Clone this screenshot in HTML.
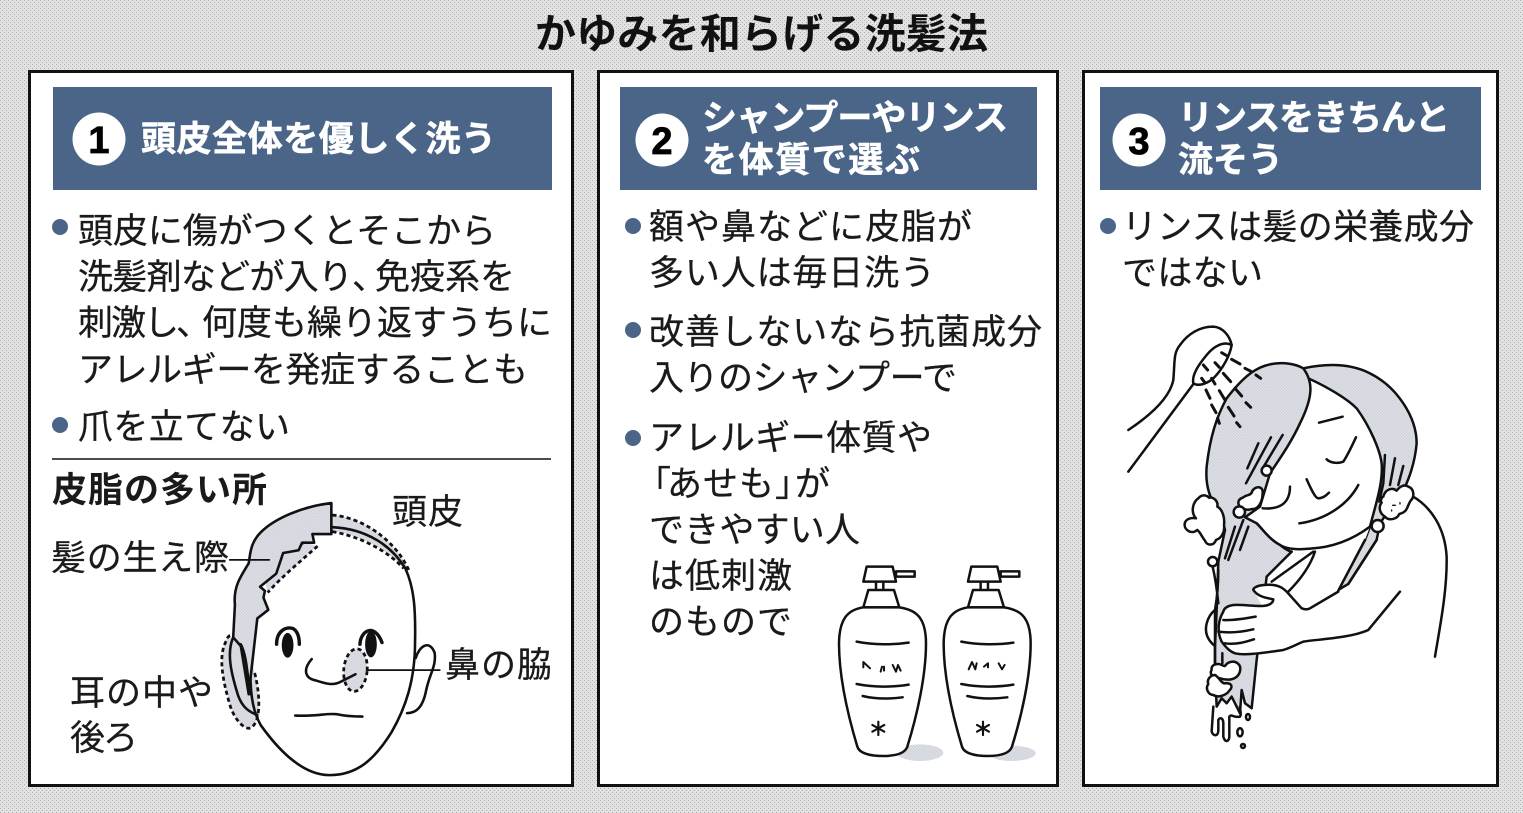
<!DOCTYPE html>
<html lang="ja"><head><meta charset="utf-8">
<style>html,body{margin:0;padding:0;background:#d9d9d9}svg{display:block}
text{font-family:"Liberation Sans","Noto Sans CJK JP",sans-serif;fill:#1a1a1a}
.b{font-size:35px;font-weight:400;stroke:#1a1a1a;stroke-width:.25}
.h{font-size:35px;font-weight:700;fill:#fff;stroke:#fff;stroke-width:.6}
.l{fill:none;stroke:#111;stroke-width:7.5;stroke-linecap:round;stroke-linejoin:round}
.w{fill:#fff;stroke:#111;stroke-width:7.5;stroke-linecap:round;stroke-linejoin:round}
.d{fill:none;stroke:#111;stroke-width:8;stroke-dasharray:12 9}
.s{fill:url(#dot);stroke:none}
.sl{fill:url(#dot);stroke:#111;stroke-width:7.5;stroke-linejoin:round}
</style></head><body>
<svg xmlns="http://www.w3.org/2000/svg" width="1523" height="813" viewBox="0 0 1523 813">
<defs>
<pattern id="bg" width="4" height="4" patternUnits="userSpaceOnUse"><rect width="4" height="4" fill="#e2e2e2"/><rect width="1" height="1" fill="#b0b0b0"/><rect x="2" y="2" width="1" height="1" fill="#b0b0b0"/></pattern>
<pattern id="dot" width="9" height="9" patternUnits="userSpaceOnUse"><rect width="9" height="9" fill="#dfe1e7"/><rect width="4.5" height="4.5" fill="#cfd2da"/><rect x="4.5" y="4.5" width="4.5" height="4.5" fill="#cfd2da"/></pattern>
</defs>
<rect width="1523" height="813" fill="url(#bg)"/>
<text x="535" y="48" font-size="41" font-weight="700" style="fill:#111" textLength="453">かゆみを和らげる洗髪法</text>
<g fill="#fff" stroke="#111" stroke-width="3">
<rect x="29.5" y="71.5" width="543" height="714"/>
<rect x="598.5" y="71.5" width="459" height="714"/>
<rect x="1083.5" y="71.5" width="414" height="714"/>
</g>
<g fill="#4a6587">
<rect x="53" y="87" width="499" height="103"/>
<rect x="620" y="87" width="417" height="103"/>
<rect x="1100" y="87" width="381" height="103"/>
</g>
<g fill="#fff"><circle cx="99" cy="139" r="26.5"/><circle cx="662" cy="140" r="26.5"/><circle cx="1139" cy="140" r="26.5"/></g>
<g font-size="38" font-weight="700" text-anchor="middle" stroke="#000" stroke-width=".8">
<text x="99" y="153" style="fill:#000">1</text><text x="662" y="154" style="fill:#000">2</text><text x="1139" y="154" style="fill:#000">3</text></g>
<text class="h" x="141" y="151" textLength="355">頭皮全体を優しく洗う</text>
<text class="h" x="702" y="130" textLength="306">シャンプーやリンス</text>
<text class="h" x="702" y="172" textLength="218">を体質で選ぶ</text>
<text class="h" x="1178" y="130" textLength="272">リンスをきちんと</text>
<text class="h" x="1178" y="172" textLength="105">流そう</text>
<g fill="#4a6587"><circle cx="60" cy="227" r="8"/><circle cx="60" cy="425" r="8"/><circle cx="633" cy="226" r="8"/><circle cx="633" cy="330" r="8"/><circle cx="633" cy="438" r="8"/><circle cx="1108" cy="226" r="8"/></g>
<text class="b" x="78" y="243" textLength="418">頭皮に傷がつくとそこから</text>
<text class="b" x="78" y="289" textLength="275">洗髪剤などが入り</text>
<text class="b" x="352" y="289">、</text>
<text class="b" x="375" y="289" textLength="140">免疫系を</text>
<text class="b" x="78" y="335" textLength="101">刺激し</text>
<text class="b" x="176" y="335">、</text>
<text class="b" x="202" y="335" textLength="350">何度も繰り返すうちに</text>
<text class="b" x="78" y="382" textLength="450">アレルギーを発症することも</text>
<text class="b" x="78" y="439" textLength="212">爪を立てない</text>
<line x1="52" y1="459" x2="551" y2="459" stroke="#111" stroke-width="1.6"/>
<text x="52" y="502" font-size="35" font-weight="700" textLength="215">皮脂の多い所</text>
<text class="b" x="392" y="524" textLength="71">頭皮</text>
<text class="b" x="51" y="570" textLength="178">髪の生え際</text>
<text class="b" x="445" y="677" textLength="107">鼻の脇</text>
<text class="b" x="70" y="705" textLength="143">耳の中や</text>
<text class="b" x="70" y="750" textLength="68">後ろ</text>
<text class="b" x="649" y="239" textLength="323">額や鼻などに皮脂が</text>
<text class="b" x="649" y="285" textLength="286">多い人は毎日洗う</text>
<text class="b" x="649" y="344" textLength="393">改善しないなら抗菌成分</text>
<text class="b" x="649" y="390" textLength="308">入りのシャンプーで</text>
<text class="b" x="649" y="450" textLength="283">アレルギー体質や</text>
<text class="b" x="636" y="496">「</text>
<text class="b" x="667" y="496" textLength="107">あせも</text>
<text class="b" x="775" y="496">」</text>
<text class="b" x="795" y="496">が</text>
<text class="b" x="649" y="542" textLength="211">できやすい人</text>
<text class="b" x="649" y="588" textLength="143">は低刺激</text>
<text class="b" x="649" y="634" textLength="143">のもので</text>
<text class="b" x="1122" y="239" textLength="352">リンスは髪の栄養成分</text>
<text class="b" x="1122" y="285" textLength="141">ではない</text>

<!-- face -->
<g transform="translate(30,460) scale(.3444)">
<path class="s" d="M878 160C960 165 1060 230 1100 320L1085 315C1040 260 960 220 878 205Z"/>
<path class="s" d="M835 250C790 290 730 340 690 385L680 340C690 300 730 250 800 240Z"/>
<path class="s" d="M575 510C545 560 560 640 580 710C595 760 630 790 645 775C675 750 665 660 650 610L640 550Z"/>
<ellipse class="s" cx="945" cy="610" rx="34" ry="62" transform="rotate(5 945 610)"/>
<path class="d" d="M878 160C960 165 1060 230 1100 320M878 208C960 222 1040 265 1085 315M835 250C790 290 730 340 690 385M680 340C690 300 730 250 800 240M600 515C590 505 575 505 570 525C545 570 560 640 580 710C595 760 630 790 645 775C675 750 665 660 650 610M600 515L640 560"/>
<ellipse class="d" cx="945" cy="610" rx="34" ry="62" transform="rotate(5 945 610)"/>
<path class="l" d="M878 195C980 200 1050 250 1090 315C1115 370 1120 430 1118 530C1118 640 1090 720 1050 790C1000 870 950 915 870 915C790 915 720 840 670 770C650 735 640 690 640 620C640 570 650 510 660 460"/>
<path class="sl" d="M875 125C790 135 710 170 670 210C640 240 640 270 635 300C610 340 590 370 595 420L590 515L612 540L635 680L660 460L692 435L678 400L682 380L668 368L715 330L735 270L780 262L790 240L825 240L820 215L875 215Z"/>
<path class="l" d="M590 515C570 560 585 620 600 670C610 710 630 730 660 740M612 535C630 570 630 620 640 680"/>
<ellipse cx="748" cy="538" rx="17" ry="36" fill="#111"/><ellipse cx="990" cy="535" rx="17" ry="38" fill="#111"/>
<path class="l" style="stroke-width:10" d="M716 535C716 495 745 482 765 490C780 500 782 520 782 535M958 535C960 495 1000 472 1022 530"/>
<path class="l" d="M818 578C790 610 800 635 830 640C860 650 880 655 900 645L945 622M770 742C830 745 860 735 890 738C920 745 945 745 965 745M1120 575C1130 540 1160 520 1175 560C1180 600 1160 620 1150 670C1140 720 1120 735 1095 735"/>
<path class="l" style="stroke-width:5" d="M580 290H695M978 610H1190"/>
</g>

<!-- bottles -->
<g transform="translate(820,550) scale(.3333)">
<ellipse class="s" cx="300" cy="608" rx="70" ry="25"/>
<ellipse class="s" cx="575" cy="610" rx="72" ry="23"/>
<path class="w" d="M140 50H218L228 95H130ZM228 64H284V80H228ZM168 95V120M190 95V120M145 120H222L238 172H130Z"/>
<path class="w" d="M130 172C80 180 58 210 57 280C57 380 85 500 112 590C118 610 150 618 190 618C230 618 255 610 262 590C290 500 318 380 318 280C318 210 295 180 238 172Z"/>
<path class="l" d="M110 275C160 285 220 285 266 278M110 402C160 412 220 412 266 404M128 438C165 447 210 447 248 442"/>
<path class="l" style="stroke-width:6.5" d="M175 515V555M157 525L193 545M193 525L157 545"/>
<path class="l" style="stroke-width:6" d="M130 352V336L150 355M182 365L186 350M192 350V362M218 345L228 365L234 345L242 362"/>
<g transform="translate(314,0)">
<path class="w" d="M140 50H218L228 95H130ZM228 64H284V80H228ZM168 95V120M190 95V120M145 120H222L238 172H130Z"/>
<path class="w" d="M130 172C80 180 58 210 57 280C57 380 85 500 112 590C118 610 150 618 190 618C230 618 255 610 262 590C290 500 318 380 318 280C318 210 295 180 238 172Z"/>
<path class="l" d="M110 275C160 285 220 285 266 278M110 402C160 412 220 412 266 404M128 438C165 447 210 447 248 442"/>
<path class="l" style="stroke-width:6.5" d="M175 515V555M157 525L193 545M193 525L157 545"/>
<path class="l" style="stroke-width:6" d="M132 358L142 336L152 358L156 340M178 350L190 340V352M222 340L232 358L240 345"/>
</g>
</g>

<!-- woman -->
<g transform="translate(1110,310) scale(.3333)">
<!-- back hair with right strip -->
<path class="sl" d="M580 175C650 160 720 160 780 190C860 230 920 320 920 400C915 460 895 510 885 530L810 640L800 690L715 822L685 840L765 690L780 650L700 400Z"/>
<!-- shoulder, torso lines -->
<path class="l" d="M910 560C960 590 1005 650 1010 740C1012 840 990 950 975 1040"/>
<path class="w" d="M610 722L545 725L470 800L535 850L575 895C585 900 595 898 600 895L685 842L765 690L780 650Z" style="stroke:none"/>
<path class="l" d="M685 842L765 690M715 822L800 690M615 725C600 770 570 810 535 845M610 725L485 815M545 725L472 795"/>
<!-- face -->
<path class="w" d="M595 205C650 230 710 265 740 295C780 350 810 420 815 460C820 520 795 590 780 650C740 680 680 712 600 716C560 720 530 718 510 705C480 690 460 660 440 640L405 622L480 480Z"/>
<!-- front hair -->
<path class="sl" d="M580 175C555 160 520 158 500 160C440 165 400 200 350 265C320 320 300 380 290 470C285 530 300 570 335 620L345 660L325 755L320 900L315 1010V1080L320 1190L335 1165L350 1180L365 1160L390 1210L395 1140L405 1180L425 1195L440 1050L470 800L545 725C530 722 520 712 510 705C480 690 460 660 440 640L405 622L450 590L480 490C510 445 545 395 570 340C610 260 610 215 580 175Z"/>
<path class="l" d="M308 770C315 800 322 850 325 880M325 780C325 820 322 860 315 900"/>
<!-- hand -->
<path class="w" style="stroke:none" d="M430 840C435 828 460 822 490 825C510 828 520 835 530 845L575 895C585 900 595 898 600 895L685 845L870 845L775 960L680 980L580 995L520 1020L440 1030H375L335 995L325 950L340 905L370 885H455Z"/>
<path class="l" d="M430 838C435 828 460 822 490 825C510 828 520 835 530 845L575 895C585 900 595 898 600 895L685 845M430 840C440 855 455 862 490 868C490 880 475 888 455 888C420 888 395 883 370 885C350 888 342 895 340 905C325 930 320 965 335 995C350 1015 360 1025 375 1030C400 1036 440 1032 520 1020C545 1012 560 1003 580 995C620 988 720 985 775 960L870 845"/>
<path class="l" d="M340 930C370 932 410 925 437 920M325 965C360 970 400 965 430 958M345 1000C380 1005 410 995 432 988"/>
<path class="l" d="M315 900C290 920 280 960 295 985C300 995 310 1005 315 1008M315 900V1070"/>
<path class="l" d="M337 1030V1060"/>
<!-- strands -->
<path class="l" d="M445 400L412 475M483 382L408 520M518 375L455 480M825 435L820 520L808 575M855 445L840 525M880 468L865 525M375 650L345 745M400 630L355 750M415 650L390 720"/>
<!-- face features -->
<path class="l" d="M627 338L698 320M738 382C725 410 710 440 700 455C680 462 660 458 650 448M590 508C600 530 615 565 625 565C640 565 650 555 657 548M540 530C540 570 520 600 458 595M745 525C710 590 640 630 568 640"/>
<!-- bubbles -->
<path class="w" d="M265 565C275 552 290 555 297 563C312 560 325 575 322 590C338 598 345 625 342 645C345 665 335 685 318 690C312 708 290 708 285 692C275 680 272 668 262 660C245 675 222 660 224 642C226 626 245 622 258 625C240 605 250 575 265 565Z"/>
<path class="w" d="M820 560C825 540 845 530 860 542C870 528 885 522 895 530C912 535 915 560 902 572C890 590 895 605 868 612C860 630 835 632 825 620C808 610 805 590 815 578C810 572 815 562 820 560Z"/>
<path class="l" style="stroke-width:4" d="M848 586H856M870 578V582M845 600V603"/>
<path class="w" d="M400 562C412 552 420 558 425 548C430 528 460 525 458 548C458 575 445 600 425 597C410 603 385 595 385 578C385 570 392 565 400 562Z"/>
<circle class="w" cx="308" cy="755" r="14"/><circle class="w" cx="470" cy="482" r="15"/><circle class="w" cx="388" cy="606" r="17"/><circle class="w" cx="803" cy="648" r="18"/>
<path class="w" d="M325 1062C310 1062 303 1070 305 1080C298 1090 305 1102 330 1105C345 1110 365 1112 378 1102C392 1092 395 1070 385 1062C375 1052 355 1052 345 1068C340 1070 335 1062 325 1062Z"/>
<path class="w" d="M315 1095C300 1095 290 1110 295 1122C285 1135 295 1155 310 1155C325 1165 350 1155 358 1142C370 1130 365 1118 345 1120C335 1122 330 1105 315 1095Z"/>
<!-- drips -->
<path class="l" d="M310 1190L305 1265C310 1280 325 1280 325 1260V1230C330 1220 340 1225 340 1240V1280C345 1300 358 1295 358 1280V1220C365 1210 370 1225 390 1220C395 1215 390 1200 390 1190"/>
<ellipse class="l" cx="414" cy="1221" rx="6" ry="9"/><ellipse class="l" cx="390" cy="1267" rx="8" ry="12"/><circle class="l" cx="399" cy="1308" r="6"/>
<!-- shower -->
<path class="l" d="M55 360C130 310 180 260 190 210C195 150 190 130 210 105C235 70 270 50 310 50C340 52 360 80 365 105"/>
<path class="w" d="M365 105C340 92 310 110 290 135C265 165 245 195 250 220C265 230 290 222 310 205C340 175 360 135 365 105Z"/>
<path class="l" d="M248 225L55 485"/>
<path style="fill:none;stroke:#111;stroke-width:9;stroke-linecap:round" d="M335 128L352 138M365 148L390 162M405 175L425 185M438 195L452 205M280 165L293 180M315 158L328 172M340 190L362 215M375 235L395 258M408 278L422 292M275 205L285 218M305 205L315 222M328 242L345 270M355 292L372 318M380 338L390 350M288 240L300 265M305 285L318 308M323 325L328 340"/>
</g>
</svg>
</body></html>
